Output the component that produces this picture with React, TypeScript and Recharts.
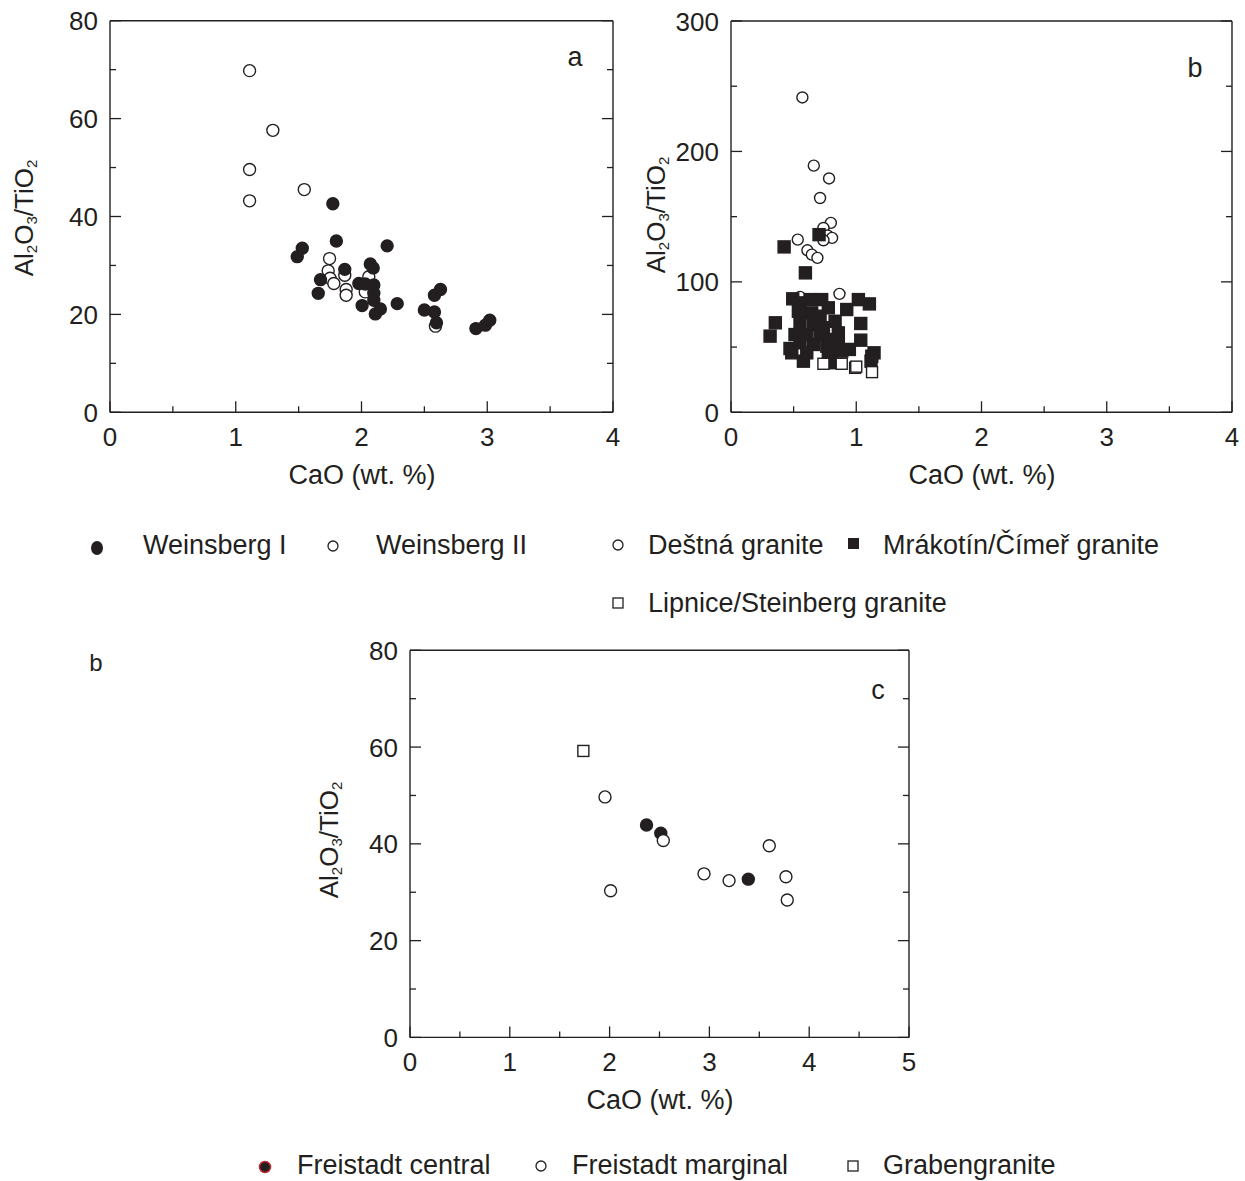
import { ScatterChart, Scatter, XAxis, YAxis } from "recharts";

const INK = "#231f20";
const FONT = "'Liberation Sans', Arial, Helvetica, sans-serif";

// panel a: CaO vs Al2O3/TiO2
const weinsbergI = [
  [1.772, 42.6], [1.489, 31.8], [1.529, 33.5], [1.8, 35.0], [2.204, 34.0],
  [1.674, 27.1], [1.656, 24.3], [1.867, 29.2], [2.07, 30.3], [2.093, 29.5],
  [1.979, 26.3], [2.03, 26.2], [2.098, 26.0], [2.098, 24.3], [2.098, 22.9],
  [2.005, 21.8], [2.15, 21.1], [2.11, 20.1], [2.284, 22.2], [2.5, 20.9],
  [2.58, 20.5], [2.58, 23.9], [2.628, 25.1], [2.596, 18.3], [2.91, 17.1],
  [2.985, 17.8], [3.02, 18.8],
];
const weinsbergII = [
  [1.11, 69.8], [1.295, 57.6], [1.11, 49.6], [1.11, 43.2], [1.545, 45.5],
  [1.746, 31.4], [1.735, 28.9], [1.75, 27.4], [1.78, 26.3], [1.867, 28.0],
  [1.878, 25.1], [1.878, 23.9], [2.058, 27.7], [2.03, 24.6], [2.588, 17.6],
];

// panel b
const destna = [
  [0.57, 241.4], [0.661, 189.1], [0.783, 179.3], [0.711, 164.3], [0.797, 145.2],
  [0.738, 141.3], [0.77, 135.6], [0.807, 133.7], [0.738, 131.9], [0.533, 132.4],
  [0.61, 124.2], [0.645, 120.9], [0.69, 118.4], [0.866, 90.8], [0.551, 88.5],
];
const mrakotin = [
  [0.424, 126.8], [0.703, 136.2], [0.594, 106.9], [0.493, 87.0], [1.017, 86.4],
  [1.105, 83.1], [0.924, 78.8], [0.354, 68.6], [0.312, 58.4], [1.036, 68.1],
  [1.036, 55.3], [0.471, 48.9], [0.578, 39.2], [0.791, 41.0], [0.945, 48.2],
  [1.142, 45.6], [1.118, 39.2], [0.551, 83.9], [0.631, 86.4], [0.724, 86.4],
  [0.777, 80.1], [0.538, 77.5], [0.644, 76.2], [0.711, 73.7], [0.551, 68.6],
  [0.831, 69.8], [0.658, 67.3], [0.738, 64.8], [0.511, 59.6], [0.605, 59.6],
  [0.711, 59.6], [0.857, 60.9], [0.791, 55.8], [0.551, 53.3], [0.658, 52.0],
  [0.765, 50.7], [0.857, 52.0], [0.485, 45.6], [0.605, 45.6], [0.777, 45.6],
  [0.884, 46.9], [1.124, 43.0], [0.791, 38.0],
];
const lipnice = [
  [0.738, 37.2], [0.884, 37.2], [0.991, 34.1], [1.0, 35.0], [1.126, 30.8],
];

// panel c
const freistadtCentral = [[2.37, 43.9], [2.513, 42.2], [3.39, 32.7]];
const freistadtMarginal = [
  [1.954, 49.7], [2.538, 40.7], [2.01, 30.3], [2.946, 33.8], [3.197, 32.4],
  [3.6, 39.6], [3.767, 33.2], [3.78, 28.4],
];
const grabengranite = [[1.737, 59.2]];

const xTicks4 = [0, 0.5, 1, 1.5, 2, 2.5, 3, 3.5, 4];
const xTicks5 = [0, 0.5, 1, 1.5, 2, 2.5, 3, 3.5, 4, 4.5, 5];
const yTicks80 = [0, 10, 20, 30, 40, 50, 60, 70, 80];
const yTicks300 = [0, 50, 100, 150, 200, 250, 300];
const xMajor4 = [0, 1, 2, 3, 4];
const xMajor5 = [0, 1, 2, 3, 4, 5];
const yMajor80 = [0, 20, 40, 60, 80];
const yMajor300 = [0, 100, 200, 300];

const toPoints = (arr: number[][]) => arr.map(([x, y]) => ({ x, y }));

const dot = (r: number, filled: boolean, stroke = INK) => (p: any) => (
  <circle cx={p.cx} cy={p.cy} r={r} fill={filled ? INK : "#fff"} stroke={stroke} strokeWidth={1.4} />
);
const box = (s: number, filled: boolean) => (p: any) => (
  <rect x={p.cx - s / 2} y={p.cy - s / 2} width={s} height={s} fill={filled ? INK : "#fff"} stroke={INK} strokeWidth={1.4} />
);

type Side = "bottom" | "top" | "left" | "right";

const makeTick = (side: Side, majors: number[], labels: boolean) => (props: any) => {
  const { x, y, payload } = props;
  const v = payload.value;
  const major = majors.some((m) => Math.abs(m - v) < 1e-9);
  const len = major ? 11 : 6;
  let x2 = x;
  let y2 = y;
  if (side === "bottom") y2 = y - len;
  if (side === "top") y2 = y + len;
  if (side === "left") x2 = x + len;
  if (side === "right") x2 = x - len;
  return (
    <g>
      <line x1={x} y1={y} x2={x2} y2={y2} stroke={INK} strokeWidth={1.3} />
      {labels && major && side === "bottom" && (
        <text x={x} y={y + 34} textAnchor="middle" fontSize={26} fill={INK} fontFamily={FONT}>
          {v}
        </text>
      )}
      {labels && major && side === "left" && (
        <text x={x - 12} y={y + 9.5} textAnchor="end" fontSize={26} fill={INK} fontFamily={FONT}>
          {v}
        </text>
      )}
    </g>
  );
};

type Series = { data: number[][]; shape: (p: any) => any; name: string };

type PanelProps = {
  box: [number, number, number, number];
  plot: [number, number, number, number];
  xMax: number;
  yMax: number;
  xTicks: number[];
  xMajor: number[];
  yTicks: number[];
  yMajor: number[];
  series: Series[];
};

const Panel = ({ box: b, plot, xMax, yMax, xTicks, xMajor, yTicks, yMajor, series }: PanelProps) => {
  const [bx, by, bw, bh] = b;
  const [pl, pt, pr, pb] = plot;
  const margin = {
    left: pl - bx - 60,
    top: pt - by - 1,
    right: bx + bw - pr - 1,
    bottom: by + bh - pb - 40,
  };
  const axisLine = { stroke: INK, strokeWidth: 1.4 };
  return (
    <div style={{ position: "absolute", left: bx, top: by }}>
      <ScatterChart width={bw} height={bh} margin={margin}>
        <XAxis
          type="number" dataKey="x" domain={[0, xMax]} ticks={xTicks} interval={0}
          allowDataOverflow height={40} tickSize={0} tickMargin={0}
          axisLine={axisLine} tickLine={false} tick={makeTick("bottom", xMajor, true)}
        />
        <XAxis
          xAxisId="top" orientation="top" type="number" domain={[0, xMax]} ticks={xTicks}
          interval={0} allowDataOverflow height={1} tickSize={0} tickMargin={0}
          axisLine={axisLine} tickLine={false} tick={makeTick("top", xMajor, false)}
        />
        <YAxis
          type="number" dataKey="y" domain={[0, yMax]} ticks={yTicks} interval={0}
          allowDataOverflow width={60} tickSize={0} tickMargin={0}
          axisLine={axisLine} tickLine={false} tick={makeTick("left", yMajor, true)}
        />
        <YAxis
          yAxisId="right" orientation="right" type="number" domain={[0, yMax]} ticks={yTicks}
          interval={0} allowDataOverflow width={1} tickSize={0} tickMargin={0}
          axisLine={axisLine} tickLine={false} tick={makeTick("right", yMajor, false)}
        />
        {series.map((s) => (
          <Scatter key={s.name} name={s.name} data={toPoints(s.data)} shape={s.shape} isAnimationActive={false} />
        ))}
      </ScatterChart>
    </div>
  );
};

const YTitle = ({ x, y }: { x: number; y: number }) => (
  <text transform="rotate(-90)" x={-y} y={x} textAnchor="middle" fontSize={26} fill={INK} fontFamily={FONT}>
    Al<tspan fontSize={15} dy={4}>2</tspan>
    <tspan dy={-4}>O</tspan>
    <tspan fontSize={15} dy={4}>3</tspan>
    <tspan dy={-4}>/TiO</tspan>
    <tspan fontSize={15} dy={4}>2</tspan>
  </text>
);

const Label = ({ x, y, children, size = 27, anchor = "start" }: any) => (
  <text x={x} y={y} fontSize={size} fill={INK} fontFamily={FONT} textAnchor={anchor}>
    {children}
  </text>
);

export default function App() {
  return (
    <div style={{ position: "absolute", left: 0, top: 0, width: 1245, height: 1181, background: "#fff" }}>
      <Panel
        box={[0, 0, 650, 500]} plot={[110, 20.7, 613, 412.3]} xMax={4} yMax={80}
        xTicks={xTicks4} xMajor={xMajor4} yTicks={yTicks80} yMajor={yMajor80}
        series={[
          { name: "Weinsberg II", data: weinsbergII, shape: dot(6, false) },
          { name: "Weinsberg I", data: weinsbergI, shape: dot(6, true) },
        ]}
      />
      <Panel
        box={[650, 0, 595, 500]} plot={[731, 21, 1232, 412.3]} xMax={4} yMax={300}
        xTicks={xTicks4} xMajor={xMajor4} yTicks={yTicks300} yMajor={yMajor300}
        series={[
          { name: "Deštná granite", data: destna, shape: dot(5.5, false) },
          { name: "Mrákotín/Čímeř granite", data: mrakotin, shape: box(12, true) },
          { name: "Lipnice/Steinberg granite", data: lipnice, shape: box(11, false) },
        ]}
      />
      <Panel
        box={[300, 620, 640, 480]} plot={[410, 650.3, 909, 1037.4]} xMax={5} yMax={80}
        xTicks={xTicks5} xMajor={xMajor5} yTicks={yTicks80} yMajor={yMajor80}
        series={[
          { name: "Freistadt central", data: freistadtCentral, shape: dot(6, true) },
          { name: "Freistadt marginal", data: freistadtMarginal, shape: dot(6, false) },
          { name: "Grabengranite", data: grabengranite, shape: box(11, false) },
        ]}
      />
      <svg
        width={1245} height={1181}
        style={{ position: "absolute", left: 0, top: 0, pointerEvents: "none" }}
      >
        {/* axis titles */}
        <YTitle x={33} y={218} />
        <YTitle x={665} y={215} />
        <YTitle x={338} y={840} />
        <Label x={362} y={484} anchor="middle">CaO (wt. %)</Label>
        <Label x={982} y={484} anchor="middle">CaO (wt. %)</Label>
        <Label x={660} y={1109} anchor="middle">CaO (wt. %)</Label>

        {/* panel letters */}
        <Label x={575} y={66} anchor="middle">a</Label>
        <Label x={1195} y={77} anchor="middle">b</Label>
        <Label x={878} y={699} anchor="middle">c</Label>
        <Label x={96} y={671} anchor="middle" size={24}>b</Label>

        {/* legend, upper panels */}
        <ellipse cx={97} cy={548} rx={6} ry={7} fill={INK} />
        <Label x={143} y={554}>Weinsberg I</Label>
        <circle cx={333} cy={546} r={5} fill="#fff" stroke={INK} strokeWidth={1.3} />
        <Label x={376} y={554}>Weinsberg II</Label>
        <circle cx={618} cy={545} r={5} fill="#fff" stroke={INK} strokeWidth={1.3} />
        <Label x={648} y={554}>Deštná granite</Label>
        <rect x={848} y={538} width={11} height={11} fill={INK} />
        <Label x={883} y={554}>Mrákotín/Čímeř granite</Label>
        <rect x={613} y={598} width={10} height={10} fill="#fff" stroke={INK} strokeWidth={1.3} />
        <Label x={648} y={612}>Lipnice/Steinberg granite</Label>

        {/* legend, panel c */}
        <circle cx={265} cy={1167} r={5.5} fill={INK} stroke="#c1272d" strokeWidth={1.5} />
        <Label x={297} y={1174}>Freistadt central</Label>
        <circle cx={541} cy={1166} r={5} fill="#fff" stroke={INK} strokeWidth={1.3} />
        <Label x={572} y={1174}>Freistadt marginal</Label>
        <rect x={848} y={1161} width={10} height={10} fill="#fff" stroke={INK} strokeWidth={1.3} />
        <Label x={883} y={1174}>Grabengranite</Label>
      </svg>
    </div>
  );
}
